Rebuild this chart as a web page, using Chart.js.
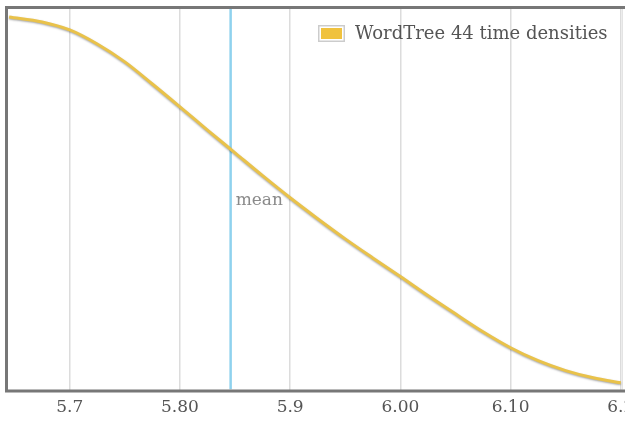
<!DOCTYPE html>
<html>
<head>
<meta charset="utf-8">
<script src="https://cdn.jsdelivr.net/npm/chart.js@4.4.1/dist/chart.umd.min.js"></script>
<style>
  html, body { margin: 0; padding: 0; background: #fff; overflow: hidden; }
  #wrap { width: 660px; height: 428px; }
</style>
</head>
<body>
<div id="wrap"><canvas id="densityChart"></canvas></div>
<script>
// density curve
const timeValues = [5.645, 5.675, 5.7, 5.725, 5.75, 5.775, 5.8, 5.825, 5.85, 5.875, 5.9, 5.925,
  5.95, 5.975, 6.0, 6.025, 6.05, 6.075, 6.1, 6.125, 6.15, 6.175, 6.2];
const densityValues = [0.979, 0.966, 0.945, 0.908, 0.861, 0.803, 0.743, 0.682, 0.622, 0.562, 0.504, 0.449,
  0.396, 0.346, 0.297, 0.247, 0.199, 0.152, 0.110, 0.076, 0.050, 0.031, 0.018];
const meanValue = 5.846;
const tickValues = [5.7, 5.8, 5.9, 6.0, 6.1, 6.2];
const tickLabels = ['5.7', '5.80', '5.9', '6.00', '6.10', '6.2'];
const seriesLabel = 'WordTree 44 time densities';

const serif = '"DejaVu Serif", serif';

const framePlugin = {
  id: 'frame',
  beforeDatasetsDraw(chart) {
    const { ctx, chartArea: a } = chart;
    ctx.save();
    ctx.strokeStyle = '#e4e4e4';
    ctx.lineWidth = 1;
    ctx.beginPath();
    ctx.moveTo(a.right - 0.5, a.top);
    ctx.lineTo(a.right - 0.5, a.bottom);
    ctx.stroke();
    ctx.restore();
  },
  afterDatasetsDraw(chart) {
    const { ctx, chartArea: a, scales } = chart;
    ctx.save();
    // mean label
    const mx = scales.x.getPixelForValue(meanValue);
    ctx.font = '17px ' + serif;
    ctx.textBaseline = 'middle';
    ctx.lineWidth = 4;
    ctx.strokeStyle = 'rgba(255,255,255,0.85)';
    ctx.strokeText('mean', mx + 5, 201);
    ctx.fillStyle = '#8a8a8a';
    ctx.fillText('mean', mx + 5, 201);

    // frame
    ctx.strokeStyle = '#777';
    ctx.lineWidth = 3;
    ctx.beginPath();
    ctx.moveTo(a.right + 2, a.top - 1.5);
    ctx.lineTo(a.left - 1.5, a.top - 1.5);
    ctx.lineTo(a.left - 1.5, a.bottom + 1.5);
    ctx.lineTo(a.right + 2, a.bottom + 1.5);
    ctx.stroke();

    // legend
    const bx = 318, by = 25;
    ctx.fillStyle = '#ccc';
    ctx.fillRect(bx, by, 27, 17);
    ctx.fillStyle = '#fff';
    ctx.fillRect(bx + 1.5, by + 1.5, 24, 14);
    ctx.fillStyle = '#f0c23e';
    ctx.fillRect(bx + 3, by + 3, 21, 11);
    ctx.font = '18px ' + serif;
    ctx.fillStyle = '#555';
    ctx.textAlign = 'left';
    ctx.fillText(seriesLabel, 355, by + 9);
    ctx.restore();
  }
};

const shadowPlugin = {
  id: 'curveShadow',
  beforeDatasetDraw(chart, args) {
    if (args.index !== 0) return;
    const ctx = chart.ctx;
    ctx.save();
    ctx.shadowColor = 'rgba(0,0,0,0.35)';
    ctx.shadowBlur = 2;
    ctx.shadowOffsetY = 1;
  },
  afterDatasetDraw(chart, args) {
    if (args.index !== 0) return;
    chart.ctx.restore();
  }
};

const ctx = document.getElementById('densityChart').getContext('2d');

new Chart(ctx, {
  type: 'line',
  data: {
    datasets: [
      {
        label: seriesLabel,
        data: timeValues.map((t, i) => ({ x: t, y: densityValues[i] })),
        borderColor: '#e9c24a',
        borderWidth: 3,
        pointRadius: 0,
        cubicInterpolationMode: 'monotone',
        fill: false,
        order: 1
      },
      {
        label: 'mean',
        data: [{ x: meanValue, y: 0 }, { x: meanValue, y: 1 }],
        borderColor: '#8fd2ee',
        borderWidth: 2.5,
        pointRadius: 0,
        fill: false,
        order: 2
      }
    ]
  },
  options: {
    responsive: true,
    maintainAspectRatio: false,
    animation: false,
    layout: { padding: { left: 8, top: 9, right: 37, bottom: 2 } },
    plugins: {
      legend: { display: false },
      tooltip: { enabled: false }
    },
    scales: {
      x: {
        type: 'linear',
        min: 5.644,
        max: 6.202,
        afterBuildTicks: axis => {
          axis.ticks = tickValues.map(v => ({ value: v }));
        },
        ticks: {
          color: '#555',
          font: { family: serif, size: 17 },
          padding: 8,
          maxRotation: 0,
          autoSkip: false,
          callback: (v) => {
            const i = tickValues.findIndex(t => Math.abs(t - v) < 1e-6);
            return i >= 0 ? tickLabels[i] : '';
          }
        },
        grid: { color: '#dcdcdc', lineWidth: 1.5, drawTicks: false },
        border: { display: false }
      },
      y: {
        display: false,
        min: 0,
        max: 1
      }
    }
  },
  plugins: [framePlugin, shadowPlugin]
});
</script>
</body>
</html>
